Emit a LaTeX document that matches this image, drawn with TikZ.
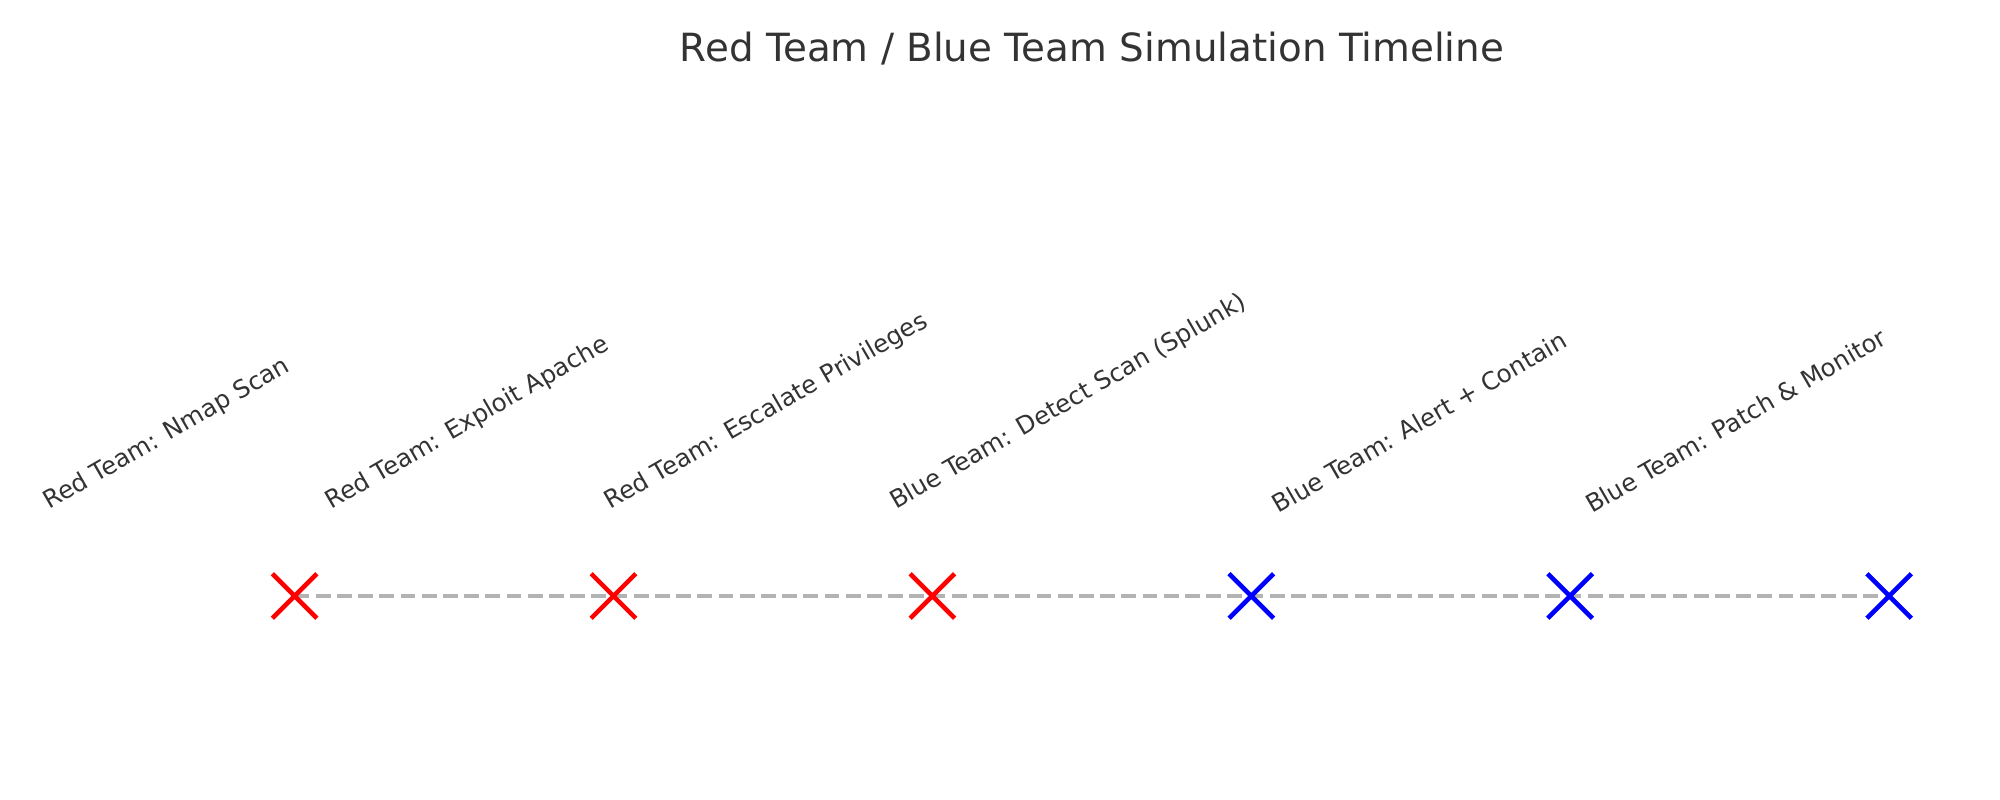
\documentclass[tikz,border=0pt]{standalone}
\usepackage{fontspec}
\setmainfont{DejaVu Sans}
\usetikzlibrary{shapes.misc}
\definecolor{inkgray}{HTML}{333333}
\definecolor{linegray}{HTML}{B3B3B3}
\definecolor{redteam}{HTML}{FF0000}
\definecolor{blueteam}{HTML}{0000FF}

\begin{document}
\begin{tikzpicture}[
    event/.style={cross out, draw=#1, line width=1.3pt, minimum size=0.4cm, inner sep=0pt},
    lbl/.style={anchor=south east, inner sep=0pt, text=inkgray,
                font=\fontsize{7.0}{8}\selectfont},
    timeline/.style={draw=linegray, line width=1.1pt, dash pattern=on 0.148cm off 0.064cm}
]
    \useasboundingbox (0,0) rectangle (20,8);
    \node[anchor=base, text=inkgray, font=\fontsize{11.05}{13}\selectfont] (title)
        at (10.92,7.38) {Red Team / Blue Team Simulation Timeline};
    % event positions
    \foreach \i in {1,...,6}
        \coordinate (p\i) at ({2.946+3.189*(\i-1)},2.04);
    \draw[timeline] (p1) -- (p2) -- (p3) -- (p4) -- (p5) -- (p6);
    \foreach \i/\team in {1/redteam,2/redteam,3/redteam,4/blueteam,5/blueteam,6/blueteam}
        \node[event=\team] (e\i) at (p\i) {};
    \foreach \i/\txt in {1/Red Team: Nmap Scan,
                         2/Red Team: Exploit Apache,
                         3/Red Team: Escalate Privileges,
                         4/Blue Team: Detect Scan (Splunk),
                         5/Blue Team: Alert + Contain,
                         6/Blue Team: Patch \& Monitor}
        \node[lbl] (l\i) at (p\i |- 0,2.85) {\rotatebox{30}{\txt}};
\end{tikzpicture}
\end{document}
